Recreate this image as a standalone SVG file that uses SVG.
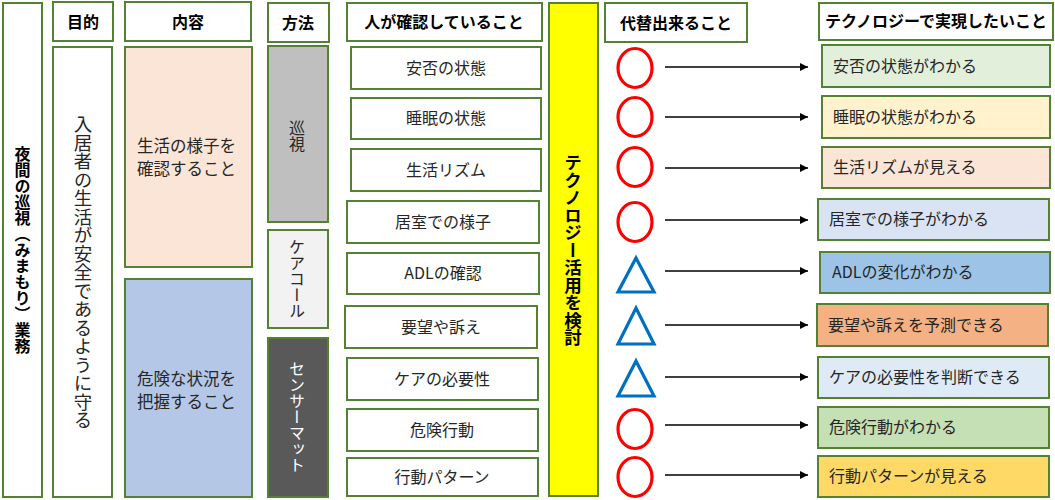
<svg xmlns="http://www.w3.org/2000/svg" width="1055" height="500" viewBox="0 0 1055 500">
<style>
.b{stroke:#548235;stroke-width:2}
.t{font-family:"Noto Sans CJK JP","Noto Sans",sans-serif;font-size:16px;fill:#262626}
.h{font-family:"Noto Sans CJK JP","Noto Sans",sans-serif;font-size:16px;font-weight:bold;fill:#000}
.v{writing-mode:vertical-rl}
.m{text-anchor:middle}
.o{fill:none;stroke:#FF0000;stroke-width:3.2}
.tr{fill:none;stroke:#0070C0;stroke-width:3.2;stroke-linejoin:miter}
.a{stroke:#000;stroke-width:1.5;fill:none}
</style>
<defs>
<marker id="ah" viewBox="0 0 10 10" refX="10" refY="5" markerWidth="10" markerHeight="8" markerUnits="userSpaceOnUse" orient="auto"><path d="M0,0 L10,5 L0,10 z" fill="#000"/></marker>
</defs>
<rect width="1055" height="500" fill="#fff"/>

<g id="gyomu"><rect class="b" x="3" y="3" width="39" height="494" fill="#fff"/><text class="h v m" x="22.5" y="250">夜間の巡視（みまもり）業務</text></g>

<g id="mokuteki-h"><rect class="b" x="53" y="2" width="60" height="39" fill="#fff"/><text class="h m" x="83" y="28">目的</text></g>
<g id="mokuteki"><rect class="b" x="53" y="47" width="59" height="450" fill="#fff"/><text class="t v m" x="83" y="272" style="font-size:18.5px">入居者の生活が安全であるように守る</text></g>

<g id="naiyou-h"><rect class="b" x="125" y="2" width="126" height="39" fill="#fff"/><text class="h m" x="188" y="28">内容</text></g>
<g id="naiyou1"><rect class="b" x="125" y="47" width="127" height="220" fill="#FBE5D6"/><text class="t" x="137" y="152" style="font-size:16.5px"><tspan x="137" y="152">生活の様子を</tspan><tspan x="137" y="175">確認すること</tspan></text></g>
<g id="naiyou2"><rect class="b" x="125" y="279" width="127" height="218" fill="#B4C7E7"/><text class="t" x="137" y="385" style="font-size:16.5px"><tspan x="137" y="385">危険な状況を</tspan><tspan x="137" y="408">把握すること</tspan></text></g>

<g id="houhou-h"><rect class="b" x="268" y="3" width="61" height="39" fill="#fff"/><text class="h m" x="298" y="29">方法</text></g>
<g id="junshi"><rect class="b" x="268" y="46" width="60" height="176" fill="#BFBFBF"/><text class="t v m" x="297" y="136">巡視</text></g>
<g id="carecall"><rect class="b" x="268" y="230" width="60" height="98" fill="#F2F2F2"/><text class="t v m" x="297" y="279">ケアコール</text></g>
<g id="sensor"><rect class="b" x="268" y="338" width="60" height="159" fill="#595959"/><text class="t v m" x="297" y="417" style="fill:#fff">センサーマット</text></g>

<g id="kakunin-h"><rect class="b" x="347" y="3" width="195" height="38" fill="#fff"/><text class="h m" x="444" y="28">人が確認していること</text></g>
<g id="k1"><rect class="b" x="351" y="47" width="190" height="42" fill="#fff"/><text class="t m" x="446" y="74">安否の状態</text></g>
<g id="k2"><rect class="b" x="351" y="98" width="190" height="41" fill="#fff"/><text class="t m" x="446" y="124">睡眠の状態</text></g>
<g id="k3"><rect class="b" x="351" y="149" width="190" height="42" fill="#fff"/><text class="t m" x="446" y="176">生活リズム</text></g>
<g id="k4"><rect class="b" x="347" y="201" width="192" height="42" fill="#fff"/><text class="t m" x="443" y="228">居室での様子</text></g>
<g id="k5"><rect class="b" x="347" y="253" width="192" height="41" fill="#fff"/><text class="t m" x="443" y="279">ADLの確認</text></g>
<g id="k6"><rect class="b" x="345" y="306" width="192" height="42" fill="#fff"/><text class="t m" x="441" y="333">要望や訴え</text></g>
<g id="k7"><rect class="b" x="347" y="358" width="191" height="42" fill="#fff"/><text class="t m" x="442" y="385">ケアの必要性</text></g>
<g id="k8"><rect class="b" x="347" y="409" width="191" height="42" fill="#fff"/><text class="t m" x="442" y="436">危険行動</text></g>
<g id="k9"><rect class="b" x="347" y="458" width="191" height="38" fill="#fff"/><text class="t m" x="442" y="483">行動パターン</text></g>

<g id="kentou"><rect class="b" x="549" y="3" width="49" height="493" fill="#FFFF00"/><text class="h v m" x="573" y="250" style="font-size:17.5px">テクノロジー活用を検討</text></g>

<g id="daitai-h"><rect class="b" x="605" y="3" width="142" height="39" fill="#fff"/><text class="h m" x="676" y="29">代替出来ること</text></g>
<g id="marks">
<ellipse class="o" cx="635" cy="68" rx="17" ry="19.5"/>
<ellipse class="o" cx="635" cy="117" rx="17" ry="19.5"/>
<ellipse class="o" cx="635" cy="167" rx="17" ry="19.5"/>
<ellipse class="o" cx="635" cy="222" rx="17" ry="19.5"/>
<polygon class="tr" points="636,258 654,292 618,292"/>
<polygon class="tr" points="636,308 654,344 618,344"/>
<polygon class="tr" points="636,361 654,396 618,396"/>
<ellipse class="o" cx="635" cy="429" rx="17" ry="19.5"/>
<ellipse class="o" cx="635" cy="477" rx="17" ry="19.5"/>
</g>

<g id="connectors">
<line class="a" x1="665" y1="67" x2="808" y2="67" marker-end="url(#ah)"/>
<line class="a" x1="665" y1="117" x2="808" y2="117" marker-end="url(#ah)"/>
<line class="a" x1="665" y1="168" x2="808" y2="168" marker-end="url(#ah)"/>
<line class="a" x1="665" y1="220" x2="808" y2="220" marker-end="url(#ah)"/>
<line class="a" x1="665" y1="271" x2="808" y2="271" marker-end="url(#ah)"/>
<line class="a" x1="665" y1="325" x2="808" y2="325" marker-end="url(#ah)"/>
<line class="a" x1="665" y1="377" x2="808" y2="377" marker-end="url(#ah)"/>
<line class="a" x1="665" y1="425" x2="808" y2="425" marker-end="url(#ah)"/>
<line class="a" x1="665" y1="475" x2="808" y2="475" marker-end="url(#ah)"/>
</g>

<g id="jitsugen-h"><rect class="b" x="819" y="3" width="234" height="37" fill="#fff"/><text class="h m" x="936" y="27">テクノロジーで実現したいこと</text></g>
<g id="r1"><rect class="b" x="822" y="45" width="228" height="42" fill="#E2EFDA"/><text class="t" x="833" y="72">安否の状態がわかる</text></g>
<g id="r2"><rect class="b" x="822" y="96" width="228" height="42" fill="#FFF2CC"/><text class="t" x="833" y="123">睡眠の状態がわかる</text></g>
<g id="r3"><rect class="b" x="822" y="147" width="228" height="41" fill="#FBE5D6"/><text class="t" x="833" y="173">生活リズムが見える</text></g>
<g id="r4"><rect class="b" x="818" y="199" width="231" height="41" fill="#DAE3F3"/><text class="t" x="829" y="225">居室での様子がわかる</text></g>
<g id="r5"><rect class="b" x="820" y="252" width="230" height="41" fill="#9DC3E6"/><text class="t" x="832" y="278">ADLの変化がわかる</text></g>
<g id="r6"><rect class="b" x="817" y="304" width="231" height="42" fill="#F4B183"/><text class="t" x="828" y="331">要望や訴えを予測できる</text></g>
<g id="r7"><rect class="b" x="818" y="357" width="231" height="41" fill="#DEEBF7"/><text class="t" x="829" y="383">ケアの必要性を判断できる</text></g>
<g id="r8"><rect class="b" x="818" y="407" width="231" height="41" fill="#C5E0B4"/><text class="t" x="829" y="433">危険行動がわかる</text></g>
<g id="r9"><rect class="b" x="818" y="456" width="231" height="41" fill="#FFD966"/><text class="t" x="829" y="482">行動パターンが見える</text></g>
</svg>
